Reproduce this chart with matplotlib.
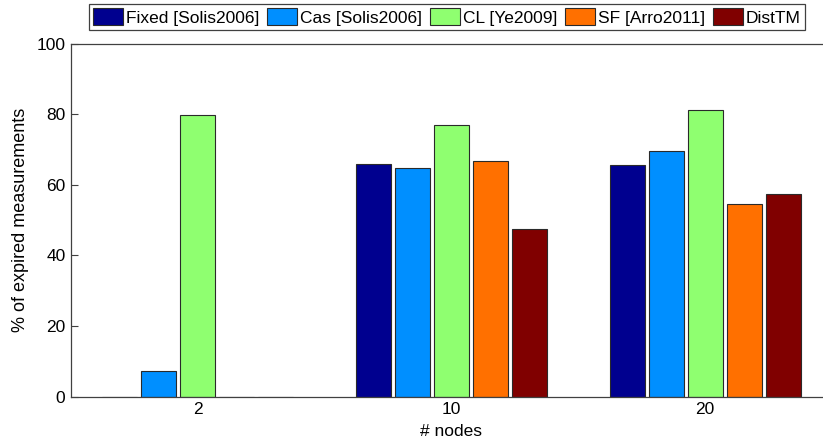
#grouped bars: % of expired measurements per number of nodes
import numpy as np
import matplotlib
matplotlib.use("Agg")
import matplotlib.pyplot as plt

plt.rcParams['font.family'] = ['Liberation Sans', 'DejaVu Sans']

nodes = ['2', '10', '20']
methods = ['Fixed [Solis2006]', 'Cas [Solis2006]', 'CL [Ye2009]', 'SF [Arro2011]', 'DistTM']
fixed = [0, 65.8, 65.6]
cas = [7.3, 64.7, 69.6]
cl = [79.8, 76.9, 81.1]
sf = [0, 66.6, 54.6]
disttm = [0, 47.4, 57.3]
colors = ['#00008f', '#008fff', '#8fff70', '#ff7000', '#800000']

series = [fixed, cas, cl, sf, disttm]
W, H = 823, 446
fig = plt.figure(figsize=(W / 100, H / 100), dpi=100)
ax = fig.add_axes([71 / W, (H - 396.7) / H, (832 - 71) / W, (396.7 - 43.5) / H])

x = np.arange(1, len(nodes) + 1)
pitch = (5 / 6.5) / 5
bw = pitch * 0.9
for i, vals in enumerate(series):
    ax.bar(x + (i - 2) * pitch, vals, bw, color=colors[i], edgecolor='#2a2a2a',
           linewidth=0.8, label=methods[i])

ax.set_xlim(0.5, 3.5)
ax.set_ylim(0, 100)
ax.set_xticks(x)
ax.set_xticklabels(nodes)
ax.set_yticks(range(0, 101, 20))
ax.set_axisbelow(True)
ax.tick_params(direction='in', length=5, width=0.8, color='#404040', labelsize=12.5, pad=4)
for s in ax.spines.values():
    s.set_color('#404040')
    s.set_linewidth(0.9)
ax.set_xlabel('# nodes', fontsize=12.5, labelpad=5)
ax.set_ylabel('% of expired measurements', fontsize=13, labelpad=5)

leg = fig.legend(loc='upper center', bbox_to_anchor=(447 / W, 1 - 4 / H), ncol=5,
                 fontsize=12.5, handlelength=1.7, handleheight=1.1, handletextpad=0.2,
                 columnspacing=0.45, borderpad=0.25, borderaxespad=0, fancybox=False,
                 edgecolor='#404040', framealpha=1)
leg.get_frame().set_linewidth(0.9)

fig.savefig('out.png', dpi=100)
